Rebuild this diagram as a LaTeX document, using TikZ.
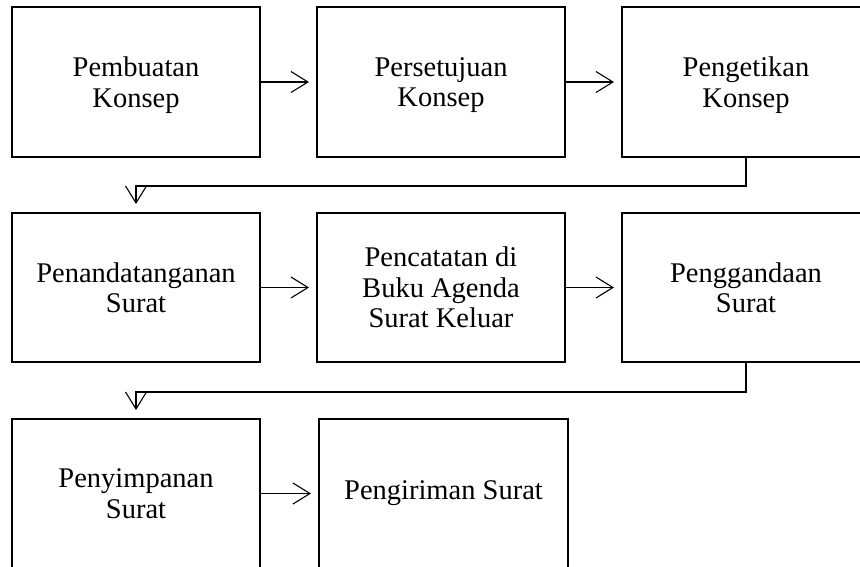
\documentclass[tikz,border=0pt]{standalone}
\usepackage{fontspec}
\setmainfont{Liberation Serif}
\usetikzlibrary{arrows.meta}
\begin{document}
\begin{tikzpicture}[x=1pt,y=-1pt,
  box/.style={draw, line width=2pt, minimum width=248pt, minimum height=149pt,
    align=center, inner sep=0pt, font=\fontsize{28.5}{30.5}\selectfont},
  topbox/.style={box, minimum height=150pt, text depth=0pt},
  conn/.style={line width=1.1pt, -{Straight Barb[length=17pt,width=21pt]}}]
\useasboundingbox (0,0) rectangle (860,566);
\clip (0,0) rectangle (860,566);
\fill[white] (0,0) rectangle (860,566);
% row 1
\node[topbox] (b1) at (136,82) {Pembuatan\\Konsep};
\node[topbox] (b2) at (441,82) {Persetujuan\\Konsep};
\node[topbox] (b3) at (746,82) {Pengetikan\\Konsep};
% row 2
\node[box] (b4) at (136,287.5) {Penandatanganan\\Surat};
\node[box] (b5) at (441,287.5) {Pencatatan di\\Buku Agenda\\Surat Keluar};
\node[box] (b6) at (746,287.5) {Penggandaan\\Surat};
% row 3
\node[box] (b7) at (136,493.5) {Penyimpanan\\Surat};
\node[box, minimum width=249pt] (b8) at (443.5,493.5) {Pengiriman Surat};
% connectors
\draw[conn, shorten >=7pt] (b1) -- (b2);
\draw[conn, shorten >=7pt] (b2) -- (b3);
\draw[conn, shorten >=7pt] (b4) -- (b5);
\draw[conn, shorten >=7pt] (b5) -- (b6);
\draw[conn, shorten >=7pt] (b7) -- (b8);
\draw[conn, shorten >=8pt] (b3.south) -- ++(0,28) -| (b4.north);
\draw[conn, shorten >=8pt] (b6.south) -- ++(0,29) -| (b7.north);
\end{tikzpicture}
\end{document}
